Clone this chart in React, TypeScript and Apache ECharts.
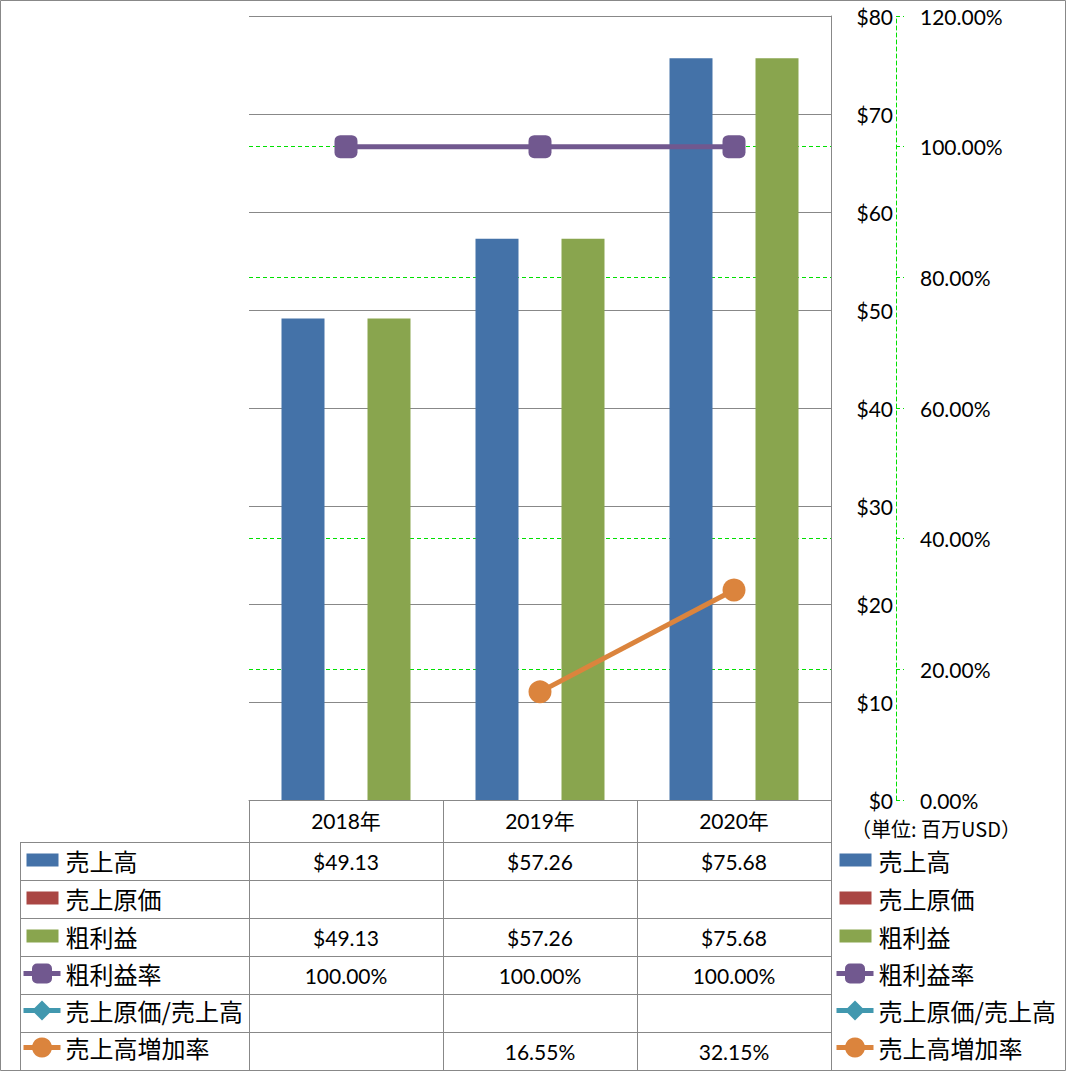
import React, { useEffect, useRef } from "react";
import * as echarts from "echarts";

const categories = ["2018年", "2019年", "2020年"];
const sales: (number | null)[] = [49.13, 57.26, 75.68];
const costOfSales: (number | null)[] = [null, null, null];
const grossProfit: (number | null)[] = [49.13, 57.26, 75.68];
const grossMargin: (number | null)[] = [1, 1, 1];
const costRatio: (number | null)[] = [null, null, null];
const salesGrowth: (number | null)[] = [null, 0.1655, 0.3215];
const seriesNames = ["売上高", "売上原価", "粗利益", "粗利益率", "売上原価/売上高", "売上高増加率"];
const unitLabel = "（単位: 百万USD）";

const COLORS = ["#4472A8", "#AA4643", "#89A54E", "#71588F", "#4198AF", "#DB843D"];

const W = 1066;
const H = 1071;
const PL = 249, PR = 831, PT = 16, PB = 800;
const ROW_H = 38;
const TABLE_LEFT = 20;

const NUM_FONT = "Lato, 'Noto Sans CJK JP', sans-serif";
const JP_FONT = "'Noto Sans CJK JP', sans-serif";

const money = (v: number | null) => (v == null ? "" : "$" + v.toFixed(2));
const pct = (v: number | null) => (v == null ? "" : (v * 100).toFixed(2) + "%");

const barIcon = "path://M0,0h0.01v0.01h-0.01z M3,6h32v13h-32z M36.99,24.99h0.01v0.01h-0.01z";

export default function App() {
  const ref = useRef<HTMLDivElement>(null);
  useEffect(() => {
    document.body.style.margin = "0";
    const chart = echarts.init(ref.current!, null, { renderer: "svg" });

    const rows: { name: string; vals: string[] }[] = [
      { name: seriesNames[0], vals: sales.map(money) },
      { name: seriesNames[1], vals: costOfSales.map(money) },
      { name: seriesNames[2], vals: grossProfit.map(money) },
      { name: seriesNames[3], vals: grossMargin.map(pct) },
      { name: seriesNames[4], vals: costRatio.map(pct) },
      { name: seriesNames[5], vals: salesGrowth.map(pct) },
    ];
    const colW = (PR - PL) / categories.length;
    const tableTop = PB + 42;
    const tableBottom = tableTop + ROW_H * rows.length;
    const lineStyle = { stroke: "#888888", lineWidth: 1 };
    const graphics: any[] = [];
    const hline = (x1: number, x2: number, y: number) =>
      graphics.push({ type: "line", shape: { x1, y1: y + 0.5, x2, y2: y + 0.5 }, style: lineStyle, silent: true });
    const vline = (x: number, y1: number, y2: number) =>
      graphics.push({ type: "line", shape: { x1: x + 0.5, y1, x2: x + 0.5, y2 }, style: lineStyle, silent: true });

    // outer frame
    graphics.push({ type: "rect", shape: { x: 0.5, y: 0.5, width: W - 1, height: H - 1 }, style: { fill: "none", stroke: "#888888", lineWidth: 1 }, silent: true });
    // table grid
    for (let r = 0; r <= rows.length; r++) hline(TABLE_LEFT, PR + 1, tableTop + r * ROW_H);
    vline(TABLE_LEFT, tableTop, tableBottom);
    for (let c = 0; c <= categories.length; c++) vline(PL + c * colW, PB, tableBottom);
    // table values
    rows.forEach((row, r) => {
      row.vals.forEach((t, c) => {
        if (!t) return;
        graphics.push({
          type: "text",
          x: PL + (c + 0.5) * colW,
          y: tableTop + r * ROW_H + ROW_H / 2,
          silent: true,
          style: { text: t, fill: "#000", font: `21px ${NUM_FONT}`, textAlign: "center", textVerticalAlign: "middle", align: "center", verticalAlign: "middle" },
        });
      });
    });
    graphics.push({
      type: "text",
      x: 851,
      y: 828,
      silent: true,
      style: { text: unitLabel, fill: "#000", font: `20px ${JP_FONT}`, textAlign: "left", textVerticalAlign: "middle", align: "left", verticalAlign: "middle" },
    });

    const legendData = seriesNames.map((n, i) => (i < 3 ? { name: n, icon: barIcon } : { name: n }));
    const legendCommon = {
      orient: "vertical" as const,
      top: tableTop + (ROW_H - 25) / 2 - 1,
      padding: 0,
      itemWidth: 37,
      itemHeight: 25,
      itemGap: ROW_H - 25,
      selectedMode: false,
      data: legendData,
      lineStyle: { width: 5 },
      textStyle: { fontSize: 24, fontFamily: JP_FONT, color: "#000" },
    };

    const green = "#00E000";
    const none = "rgba(0,0,0,0)";

    chart.setOption({
      animation: false,
      color: COLORS,
      graphic: graphics,
      legend: [
        { ...legendCommon, left: TABLE_LEFT + 1 },
        { ...legendCommon, left: 834 },
      ],
      grid: { left: PL, right: W - PR, top: PT, bottom: H - PB, containLabel: false },
      xAxis: {
        type: "category",
        data: categories,
        axisLine: { show: true, lineStyle: { color: "#888888", width: 1 } },
        axisTick: { show: false },
        axisLabel: { fontSize: 21, fontFamily: NUM_FONT, color: "#000", margin: 10 },
      },
      yAxis: [
        {
          type: "value",
          min: 0,
          max: 80,
          interval: 10,
          position: "right",
          axisLine: { show: true, lineStyle: { color: "#888888", width: 1 } },
          axisTick: { show: false },
          splitLine: { show: true, lineStyle: { color: "#888888", width: 1 } },
          axisLabel: {
            align: "right",
            margin: 62,
            fontSize: 21,
            fontFamily: NUM_FONT,
            color: "#000",
            formatter: (v: number) => "$" + v,
          },
        },
        {
          type: "value",
          min: 0,
          max: 1.2,
          interval: 0.2,
          position: "right",
          offset: 65,
          axisLine: { show: true, lineStyle: { color: green, width: 1, type: [4, 3] } },
          axisTick: { show: true, length: 8, lineStyle: { color: green, width: 1, type: [4, 3] } },
          splitLine: { show: true, lineStyle: { color: [none, green, green, none, green, green, none], width: 1, type: [4, 3] } },
          axisLabel: {
            align: "left",
            margin: 24,
            fontSize: 21,
            fontFamily: NUM_FONT,
            color: "#000",
            formatter: (v: number) => (v * 100).toFixed(2) + "%",
          },
        },
      ],
      series: [
        { name: seriesNames[0], type: "bar", data: sales, barWidth: 43, barGap: "0%", itemStyle: { color: COLORS[0] } },
        { name: seriesNames[1], type: "bar", data: costOfSales, barWidth: 43, barGap: "0%", itemStyle: { color: COLORS[1] } },
        { name: seriesNames[2], type: "bar", data: grossProfit, barWidth: 43, barGap: "0%", itemStyle: { color: COLORS[2] } },
        {
          name: seriesNames[3], type: "line", yAxisIndex: 1, data: grossMargin,
          symbol: "roundRect", symbolSize: 23, lineStyle: { width: 5, color: COLORS[3] }, itemStyle: { color: COLORS[3] },
        },
        {
          name: seriesNames[4], type: "line", yAxisIndex: 1, data: costRatio,
          symbol: "diamond", symbolSize: 23, lineStyle: { width: 5, color: COLORS[4] }, itemStyle: { color: COLORS[4] },
        },
        {
          name: seriesNames[5], type: "line", yAxisIndex: 1, data: salesGrowth,
          symbol: "circle", symbolSize: 23, lineStyle: { width: 5, color: COLORS[5] }, itemStyle: { color: COLORS[5] },
        },
      ],
    });
    return () => chart.dispose();
  }, []);
  return <div ref={ref} style={{ width: W, height: H, background: "#fff" }} />;
}
